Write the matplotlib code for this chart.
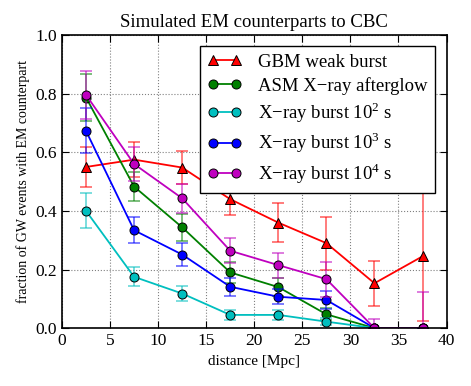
import matplotlib
matplotlib.use('Agg')
import matplotlib.pyplot as plt

plt.rcParams['font.family'] = ['Liberation Serif', 'DejaVu Serif']
plt.rcParams['mathtext.fontset'] = 'custom'
plt.rcParams['mathtext.rm'] = 'Liberation Serif'
plt.rcParams['xtick.direction'] = 'in'
plt.rcParams['ytick.direction'] = 'in'
plt.rcParams['xtick.top'] = True
plt.rcParams['ytick.right'] = True

distance = [2.5, 7.5, 12.5, 17.5, 22.5, 27.5, 32.5, 37.5]

gbm = [0.55, 0.575, 0.548, 0.44, 0.36, 0.29, 0.153, 0.245]
gbm_err = [0.068, 0.06, 0.055, 0.053, 0.067, 0.09, 0.077, 0.22]

asm = [0.787, 0.483, 0.344, 0.19, 0.14, 0.047, 0.0, 0.0]
asm_err = [0.08, 0.05, 0.045, 0.035, 0.03, 0.02, 0.0, 0.0]

xr2 = [0.40, 0.175, 0.118, 0.045, 0.045, 0.022, 0.0, 0.0]
xr2_err = [0.06, 0.032, 0.026, 0.016, 0.016, 0.012, 0.0, 0.0]

xr3 = [0.673, 0.334, 0.251, 0.141, 0.107, 0.096, 0.0, 0.0]
xr3_err = [0.077, 0.044, 0.038, 0.03, 0.025, 0.03, 0.0, 0.0]

xr4 = [0.796, 0.56, 0.443, 0.264, 0.215, 0.167, 0.0, 0.0]
xr4_err = [0.082, 0.058, 0.05, 0.043, 0.043, 0.06, 0.03, 0.124]

series = [
    (gbm, gbm_err, 'red', '^', 'GBM weak burst'),
    (asm, asm_err, 'green', 'o', 'ASM X\u2212ray afterglow'),
    (xr2, xr2_err, 'c', 'o', 'X\u2212ray burst 10$^2$ s'),
    (xr3, xr3_err, 'blue', 'o', 'X\u2212ray burst 10$^3$ s'),
    (xr4, xr4_err, 'm', 'o', 'X\u2212ray burst 10$^4$ s'),
]

fig = plt.figure(figsize=(4.71, 3.86), dpi=100)
ax = fig.add_axes([0.1316, 0.150, 0.8165, 0.759])

for y, err, col, mk, lab in series:
    # error bars drawn lighter, line + markers on top
    ax.errorbar(distance, y, yerr=err, fmt='none', ecolor=col, alpha=0.6,
                capsize=4, elinewidth=1.2, capthick=1.2)
    ax.plot(distance, y, color=col, marker=mk, markersize=6.5,
            markeredgecolor='black', markeredgewidth=0.7, lw=1.3, label=lab)

ax.set_xlim(0, 40)
ax.set_ylim(0, 1.0)
ax.set_xticks(range(0, 41, 5))
ax.set_yticks([0.0, 0.2, 0.4, 0.6, 0.8, 1.0])
ax.grid(True, linestyle=':', color='gray', lw=0.8)
ax.tick_params(labelsize=12.5, length=5)
for s in ax.spines.values():
    s.set_linewidth(1.2)

ax.set_xlabel('distance [Mpc]', fontsize=11)
ax.set_ylabel('fraction of GW events with EM counterpart', fontsize=10)
ax.set_title('Simulated EM counterparts to CBC', fontsize=13.5)

leg = ax.legend(loc='upper right', numpoints=2, fontsize=13.5, fancybox=False,
                framealpha=1, edgecolor='black', handlelength=1.8,
                handletextpad=0.9, labelspacing=0.3, borderpad=0.4,
                borderaxespad=0.6)
leg.get_frame().set_linewidth(1.0)

fig.savefig('out.png', dpi=100)
